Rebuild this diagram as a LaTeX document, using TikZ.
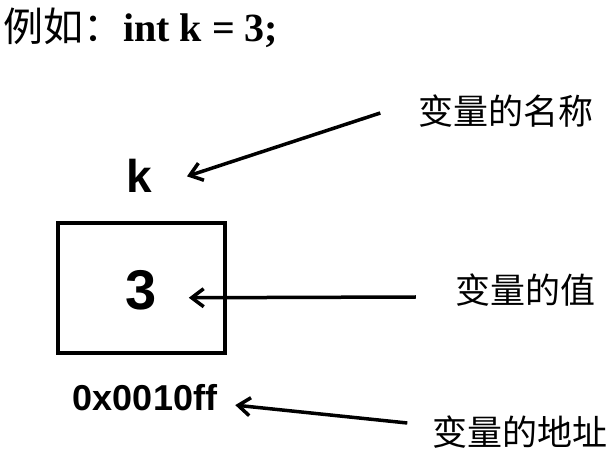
\documentclass[tikz,border=0pt]{standalone}
\usepackage{fontspec}
\setmainfont{Liberation Serif}
\setsansfont{Liberation Sans}
\newfontfamily\cjk{Noto Sans CJK SC}
\usetikzlibrary{positioning,arrows.meta}

\begin{document}
\begin{tikzpicture}[x=1pt, y=-1pt,
  txt/.style={inner sep=0pt, font=\sffamily\bfseries},
  lbl/.style={inner sep=0pt, font=\cjk\fontsize{35}{38}\selectfont},
  cell/.style={draw, line width=4.5pt, minimum width=167pt, minimum height=130pt},
  arr/.style={-{Straight Barb[length=12pt,width=18pt,line width=3.5pt]}, line width=3.5pt}
]
\useasboundingbox (0,0) rectangle (614,457);
\node[inner sep=0pt, anchor=base west] (title) at (3,42)
 {{\cjk\fontsize{40}{42}\selectfont 例如：}{\rmfamily\bfseries\fontsize{40}{44}\selectfont int k = 3;}};
\node[cell] (box) at (141.5,288) {};
\node[txt, anchor=base, font=\sffamily\bfseries\fontsize{46}{50}\selectfont] (key) at (139,193) {k};
\node[txt, anchor=base, font=\sffamily\bfseries\fontsize{56}{60}\selectfont] (val) at (141,310) {3};
\node[txt, anchor=base, font=\sffamily\bfseries\fontsize{36}{40}\selectfont] (addr) at (145,410) {0x0010ff};
\node[lbl] (lname) at (506,111) {变量的名称};
\node[lbl] (lval) at (525,290) {变量的值};
\node[lbl] (laddr) at (520,432) {变量的地址};
% free ends of the arrows
\coordinate (nameFrom) at ([shift={(-38,2)}]lname.west);
\coordinate (valFrom) at ([shift={(-39,7)}]lval.west);
\coordinate (addrFrom) at ([shift={(-25,-9)}]laddr.west);
\draw[arr] (nameFrom) -- ([xshift=35pt]key.east);
\draw[arr] (valFrom) -- ([shift={(32,7)}]val.east);
\draw[arr] (addrFrom) -- ([shift={(18,8)}]addr.east);
\end{tikzpicture}
\end{document}
